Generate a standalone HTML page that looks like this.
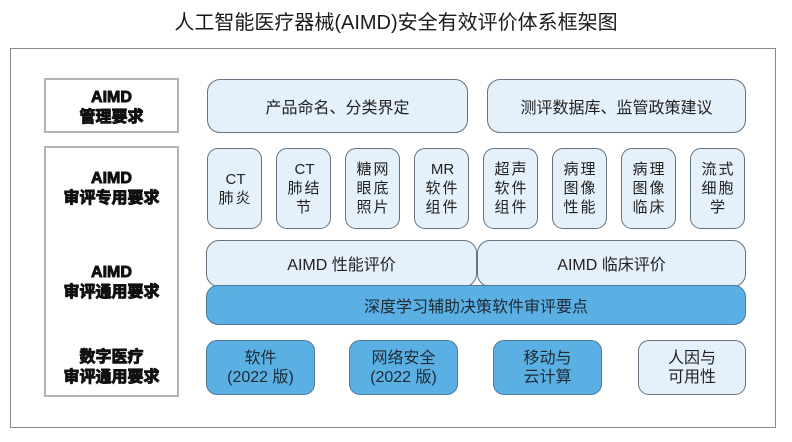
<!DOCTYPE html>
<html><head><meta charset="utf-8">
<style>
*{margin:0;padding:0;box-sizing:border-box}
body{width:792px;height:442px;background:#fff;position:relative;overflow:hidden;font-family:"Liberation Sans","Noto Sans CJK SC",sans-serif;color:#222}
.a{position:absolute}
.title{left:0;width:792px;top:10px;text-align:center;font-size:20px;line-height:26px;color:#1a1a1a}
.frame{left:10px;top:48px;width:766px;height:380px;border:1.5px solid #8a8a8a}
.lab{border:2px solid #b4b4b4;background:#fff}
.lt{left:44px;width:135px;text-align:center;font-weight:bold;font-size:16px;line-height:20px;color:#111;-webkit-text-stroke:0.9px #111}
.lb{background:#e4f0fa;border:1px solid #66727e;display:flex;align-items:center;justify-content:center;text-align:center;font-size:16px;color:#222}
.bb{background:#5aafe3;border:1px solid #4f7796;display:flex;align-items:center;justify-content:center;text-align:center;font-size:16px;color:#1f2a33}
.sm{top:148px;width:55px;height:81px;border-radius:11px;font-size:15px;line-height:19px;letter-spacing:2px;padding-left:2px}
.sm span{letter-spacing:0}
.bt{top:340px;width:109px;height:55px;border-radius:11px;line-height:19px}
</style></head><body>
<div class="a title">人工智能医疗器械(AIMD)安全有效评价体系框架图</div>
<div class="a frame"></div>

<div class="a lab" style="left:44px;top:78px;width:135px;height:55px"></div>
<div class="a lab" style="left:44px;top:146px;width:135px;height:251px"></div>
<div class="a lt" style="top:88px">AIMD<br>管理要求</div>
<div class="a lt" style="top:169px">AIMD<br>审评专用要求</div>
<div class="a lt" style="top:263px">AIMD<br>审评通用要求</div>
<div class="a lt" style="top:348px">数字医疗<br>审评通用要求</div>

<div class="a lb" style="left:207px;top:79px;width:261px;height:54px;border-radius:13px">产品命名、分类界定</div>
<div class="a lb" style="left:487px;top:79px;width:259px;height:54px;border-radius:13px">测评数据库、监管政策建议</div>

<div class="a lb sm" style="left:207px"><div><span>CT</span><br>肺炎</div></div>
<div class="a lb sm" style="left:276px"><div><span>CT</span><br>肺结<br>节</div></div>
<div class="a lb sm" style="left:345px">糖网<br>眼底<br>照片</div>
<div class="a lb sm" style="left:414px"><div><span>MR</span><br>软件<br>组件</div></div>
<div class="a lb sm" style="left:483px">超声<br>软件<br>组件</div>
<div class="a lb sm" style="left:552px">病理<br>图像<br>性能</div>
<div class="a lb sm" style="left:621px">病理<br>图像<br>临床</div>
<div class="a lb sm" style="left:690px">流式<br>细胞<br>学</div>

<div class="a lb" style="left:206px;top:240px;width:271px;height:47px;border-radius:13px;padding-bottom:2px">AIMD 性能评价</div>
<div class="a lb" style="left:477px;top:240px;width:269px;height:47px;border-radius:13px;padding-bottom:2px">AIMD 临床评价</div>
<div class="a bb" style="left:206px;top:285px;width:540px;height:40px;border-radius:12px">深度学习辅助决策软件审评要点</div>

<div class="a bb bt" style="left:206px">软件<br>(2022 版)</div>
<div class="a bb bt" style="left:349px">网络安全<br>(2022 版)</div>
<div class="a bb bt" style="left:493px">移动与<br>云计算</div>
<div class="a lb bt" style="left:638px;width:108px">人因与<br>可用性</div>
</body></html>
